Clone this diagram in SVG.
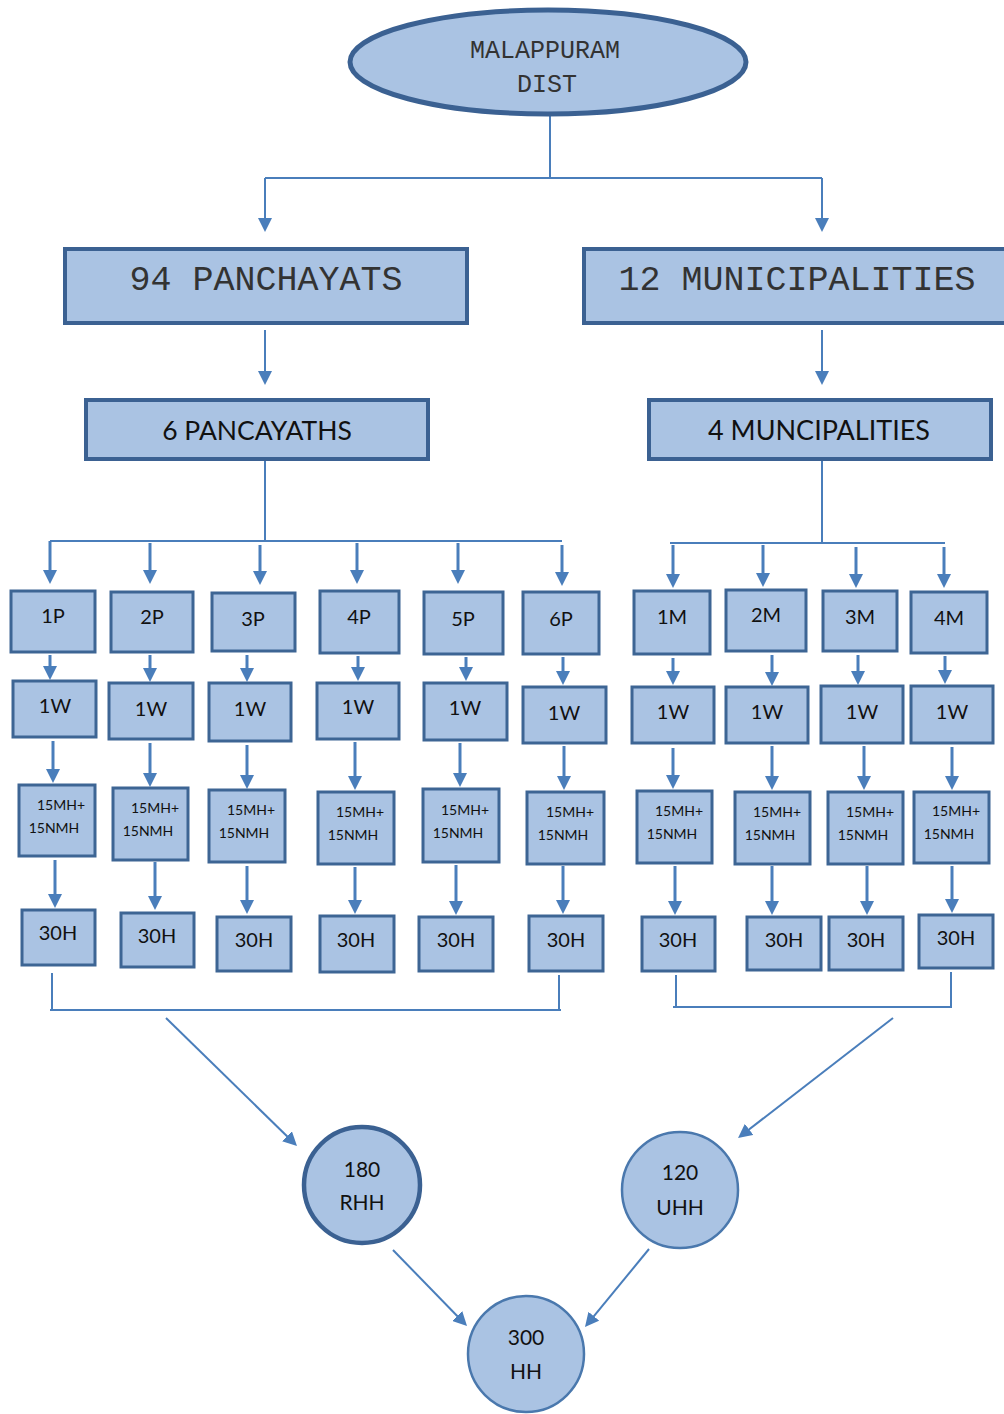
<svg xmlns="http://www.w3.org/2000/svg" width="1004" height="1414" viewBox="0 0 1004 1414">
<defs>
<marker id="ah" viewBox="0 0 10 10" refX="5.7" refY="5" markerWidth="14" markerHeight="14" markerUnits="userSpaceOnUse" orient="auto">
<path d="M0,0 L10,5 L0,10 z" fill="#4a7ebb"/>
</marker>
<style>
.big{fill:#aac3e3;stroke:#3b6192;stroke-width:4}
.box{fill:#aac3e3;stroke:#3d6594;stroke-width:3}
.mono{font-family:"Liberation Mono",monospace;fill:#333;text-anchor:middle}
.sans{font-family:Lato,"Open Sans",sans-serif;fill:#111;text-anchor:middle}
.t20{font-size:20px}
.t14{font-size:14px}
.ln{stroke:#4a7ebb;stroke-width:2;fill:none}
.ar{stroke:#4a7ebb;stroke-width:3;fill:none;marker-end:url(#ah)}
.ar2{stroke:#4a7ebb;stroke-width:2;fill:none;marker-end:url(#ah)}
</style>
</defs>
<rect width="1004" height="1414" fill="#fff"/>

<g id="connectors">
<path class="ln" d="M550,116 V178 M265,178 H822"/>
<line class="ar2" x1="265" y1="178" x2="265" y2="226"/>
<line class="ar2" x1="822" y1="178" x2="822" y2="226"/>
<line class="ar2" x1="265" y1="330" x2="265" y2="379"/>
<line class="ar2" x1="822" y1="330" x2="822" y2="379"/>
<path class="ln" d="M265,461 V541 M50,541 H562"/>
<path class="ln" d="M822,461 V543 M670,543 H945"/>
<line class="ar" x1="50" y1="541" x2="50" y2="578"/>
<line class="ar" x1="150" y1="543" x2="150" y2="578"/>
<line class="ar" x1="260" y1="545" x2="260" y2="579"/>
<line class="ar" x1="357" y1="543" x2="357" y2="578"/>
<line class="ar" x1="458" y1="543" x2="458" y2="578"/>
<line class="ar" x1="562" y1="545" x2="562" y2="580"/>
<line class="ar" x1="673" y1="545" x2="673" y2="582"/>
<line class="ar" x1="763" y1="545" x2="763" y2="581"/>
<line class="ar" x1="856" y1="547" x2="856" y2="582"/>
<line class="ar" x1="944" y1="547" x2="944" y2="582"/>
<line class="ar" x1="50" y1="655" x2="50" y2="674"/>
<line class="ar" x1="53" y1="741" x2="53" y2="777"/>
<line class="ar" x1="55" y1="860" x2="55" y2="902"/>
<line class="ar" x1="150" y1="655" x2="150" y2="676"/>
<line class="ar" x1="150" y1="743" x2="150" y2="781"/>
<line class="ar" x1="155" y1="862" x2="155" y2="904"/>
<line class="ar" x1="247" y1="655" x2="247" y2="676"/>
<line class="ar" x1="247" y1="745" x2="247" y2="783"/>
<line class="ar" x1="247" y1="866" x2="247" y2="908"/>
<line class="ar" x1="358" y1="656" x2="358" y2="675"/>
<line class="ar" x1="355" y1="742" x2="355" y2="784"/>
<line class="ar" x1="355" y1="867" x2="355" y2="908"/>
<line class="ar" x1="466" y1="657" x2="466" y2="675"/>
<line class="ar" x1="460" y1="743" x2="460" y2="781"/>
<line class="ar" x1="456" y1="865" x2="456" y2="909"/>
<line class="ar" x1="563" y1="657" x2="563" y2="679"/>
<line class="ar" x1="564" y1="746" x2="564" y2="784"/>
<line class="ar" x1="563" y1="866" x2="563" y2="908"/>
<line class="ar" x1="673" y1="658" x2="673" y2="679"/>
<line class="ar" x1="673" y1="748" x2="673" y2="783"/>
<line class="ar" x1="675" y1="866" x2="675" y2="909"/>
<line class="ar" x1="772" y1="655" x2="772" y2="680"/>
<line class="ar" x1="772" y1="746" x2="772" y2="784"/>
<line class="ar" x1="772" y1="866" x2="772" y2="909"/>
<line class="ar" x1="858" y1="655" x2="858" y2="679"/>
<line class="ar" x1="864" y1="746" x2="864" y2="784"/>
<line class="ar" x1="867" y1="866" x2="867" y2="909"/>
<line class="ar" x1="945" y1="656" x2="945" y2="678"/>
<line class="ar" x1="952" y1="747" x2="952" y2="784"/>
<line class="ar" x1="952" y1="866" x2="952" y2="907"/>
<path class="ln" d="M52,973 V1010 M559,975 V1010 M50,1010 H561"/>
<path class="ln" d="M676,975 V1007 M951,972 V1007 M673,1007 H952"/>
<line class="ar2" x1="166" y1="1018" x2="292.7" y2="1141.8"/>
<line class="ar2" x1="893" y1="1018" x2="742.8" y2="1134.3"/>
<line class="ar2" x1="393" y1="1250" x2="462.8" y2="1321.7"/>
<line class="ar2" x1="649" y1="1249" x2="588.8" y2="1322.4"/>
</g>

<g id="n-dist">
<ellipse cx="548" cy="62" rx="198" ry="52" fill="#aac3e3" stroke="#3b6192" stroke-width="5"/>
<text class="mono" x="545" y="58" font-size="25">MALAPPURAM</text>
<text class="mono" x="547" y="92" font-size="25">DIST</text>
</g>
<g id="n-94p">
<rect class="big" x="65" y="249" width="402" height="74"/>
<text class="mono" x="266" y="290" font-size="35">94 PANCHAYATS</text>
</g>
<g id="n-12m">
<rect class="big" x="584" y="249" width="430" height="74"/>
<text class="mono" x="797" y="290" font-size="35">12 MUNICIPALITIES</text>
</g>
<g id="n-6p">
<rect class="big" x="86" y="400" width="342" height="59"/>
<text class="sans" x="257" y="440" font-size="26.5">6 PANCAYATHS</text>
</g>
<g id="n-4m">
<rect class="big" x="649" y="400" width="342" height="59"/>
<text class="sans" x="819" y="440" font-size="27">4 MUNCIPALITIES</text>
</g>

<g id="n-1p"><rect class="box" x="11" y="591" width="84" height="61"/><text class="sans t20" x="53" y="623">1P</text></g>
<g id="n-2p"><rect class="box" x="111" y="592" width="82" height="60"/><text class="sans t20" x="152" y="624">2P</text></g>
<g id="n-3p"><rect class="box" x="212" y="593" width="83" height="58"/><text class="sans t20" x="253" y="626">3P</text></g>
<g id="n-4p"><rect class="box" x="320" y="591" width="79" height="62"/><text class="sans t20" x="359" y="624">4P</text></g>
<g id="n-5p"><rect class="box" x="424" y="592" width="79" height="62"/><text class="sans t20" x="463" y="626">5P</text></g>
<g id="n-6pp"><rect class="box" x="523" y="592" width="76" height="62"/><text class="sans t20" x="561" y="626">6P</text></g>
<g id="n-1m"><rect class="box" x="634" y="591" width="76" height="63"/><text class="sans t20" x="672" y="624">1M</text></g>
<g id="n-2m"><rect class="box" x="726" y="590" width="80" height="61"/><text class="sans t20" x="766" y="622">2M</text></g>
<g id="n-3m"><rect class="box" x="823" y="591" width="74" height="60"/><text class="sans t20" x="860" y="624">3M</text></g>
<g id="n-4mm"><rect class="box" x="911" y="592" width="76" height="61"/><text class="sans t20" x="949" y="625">4M</text></g>

<g id="n-w1"><rect class="box" x="13" y="681" width="83" height="56"/><text class="sans t20" x="55" y="713">1W</text></g>
<g id="n-w2"><rect class="box" x="109" y="683" width="84" height="56"/><text class="sans t20" x="151" y="716">1W</text></g>
<g id="n-w3"><rect class="box" x="209" y="683" width="82" height="58"/><text class="sans t20" x="250" y="716">1W</text></g>
<g id="n-w4"><rect class="box" x="317" y="683" width="82" height="56"/><text class="sans t20" x="358" y="714">1W</text></g>
<g id="n-w5"><rect class="box" x="424" y="683" width="83" height="57"/><text class="sans t20" x="465" y="715">1W</text></g>
<g id="n-w6"><rect class="box" x="523" y="687" width="83" height="56"/><text class="sans t20" x="564" y="720">1W</text></g>
<g id="n-w7"><rect class="box" x="632" y="687" width="82" height="56"/><text class="sans t20" x="673" y="719">1W</text></g>
<g id="n-w8"><rect class="box" x="726" y="687" width="82" height="56"/><text class="sans t20" x="767" y="719">1W</text></g>
<g id="n-w9"><rect class="box" x="821" y="686" width="82" height="57"/><text class="sans t20" x="862" y="719">1W</text></g>
<g id="n-w10"><rect class="box" x="911" y="686" width="82" height="57"/><text class="sans t20" x="952" y="719">1W</text></g>

<g id="n-m1"><rect class="box" x="19" y="785" width="76" height="71"/><text class="sans t14"><tspan x="61" y="810">15MH+</tspan><tspan x="54" y="833">15NMH</tspan></text></g>
<g id="n-m2"><rect class="box" x="113" y="788" width="75" height="72"/><text class="sans t14"><tspan x="155" y="813">15MH+</tspan><tspan x="148" y="836">15NMH</tspan></text></g>
<g id="n-m3"><rect class="box" x="209" y="790" width="76" height="72"/><text class="sans t14"><tspan x="251" y="815">15MH+</tspan><tspan x="244" y="838">15NMH</tspan></text></g>
<g id="n-m4"><rect class="box" x="318" y="792" width="76" height="72"/><text class="sans t14"><tspan x="360" y="817">15MH+</tspan><tspan x="353" y="840">15NMH</tspan></text></g>
<g id="n-m5"><rect class="box" x="423" y="789" width="76" height="73"/><text class="sans t14"><tspan x="465" y="815">15MH+</tspan><tspan x="458" y="838">15NMH</tspan></text></g>
<g id="n-m6"><rect class="box" x="527" y="792" width="77" height="72"/><text class="sans t14"><tspan x="570" y="817">15MH+</tspan><tspan x="563" y="840">15NMH</tspan></text></g>
<g id="n-m7"><rect class="box" x="637" y="791" width="75" height="72"/><text class="sans t14"><tspan x="679" y="816">15MH+</tspan><tspan x="672" y="839">15NMH</tspan></text></g>
<g id="n-m8"><rect class="box" x="735" y="792" width="75" height="72"/><text class="sans t14"><tspan x="777" y="817">15MH+</tspan><tspan x="770" y="840">15NMH</tspan></text></g>
<g id="n-m9"><rect class="box" x="828" y="792" width="75" height="72"/><text class="sans t14"><tspan x="870" y="817">15MH+</tspan><tspan x="863" y="840">15NMH</tspan></text></g>
<g id="n-m10"><rect class="box" x="914" y="792" width="75" height="71"/><text class="sans t14"><tspan x="956" y="816">15MH+</tspan><tspan x="949" y="839">15NMH</tspan></text></g>

<g id="n-h1"><rect class="box" x="22" y="910" width="73" height="55"/><text class="sans t20" x="58" y="940">30H</text></g>
<g id="n-h2"><rect class="box" x="121" y="913" width="73" height="54"/><text class="sans t20" x="157" y="943">30H</text></g>
<g id="n-h3"><rect class="box" x="217" y="917" width="74" height="54"/><text class="sans t20" x="254" y="947">30H</text></g>
<g id="n-h4"><rect class="box" x="320" y="916" width="74" height="56"/><text class="sans t20" x="356" y="947">30H</text></g>
<g id="n-h5"><rect class="box" x="419" y="917" width="74" height="54"/><text class="sans t20" x="456" y="947">30H</text></g>
<g id="n-h6"><rect class="box" x="529" y="916" width="74" height="55"/><text class="sans t20" x="566" y="947">30H</text></g>
<g id="n-h7"><rect class="box" x="642" y="917" width="73" height="54"/><text class="sans t20" x="678" y="947">30H</text></g>
<g id="n-h8"><rect class="box" x="747" y="917" width="74" height="53"/><text class="sans t20" x="784" y="947">30H</text></g>
<g id="n-h9"><rect class="box" x="829" y="917" width="74" height="53"/><text class="sans t20" x="866" y="947">30H</text></g>
<g id="n-h10"><rect class="box" x="919" y="915" width="74" height="53"/><text class="sans t20" x="956" y="945">30H</text></g>

<g id="n-rhh">
<circle cx="362" cy="1185" r="58" fill="#aac3e3" stroke="#3b6192" stroke-width="4.5"/>
<text class="sans" font-size="21" x="362" y="1177">180</text>
<text class="sans" font-size="21" x="362" y="1210">RHH</text>
</g>
<g id="n-uhh">
<circle cx="680" cy="1190" r="58" fill="#aac3e3" stroke="#4a78ad" stroke-width="2.5"/>
<text class="sans" font-size="21" x="680" y="1180">120</text>
<text class="sans" font-size="21" x="680" y="1215">UHH</text>
</g>
<g id="n-hh">
<circle cx="526" cy="1354" r="58" fill="#aac3e3" stroke="#4a78ad" stroke-width="2.5"/>
<text class="sans" font-size="21" x="526" y="1345">300</text>
<text class="sans" font-size="21" x="526" y="1379">HH</text>
</g>
</svg>
